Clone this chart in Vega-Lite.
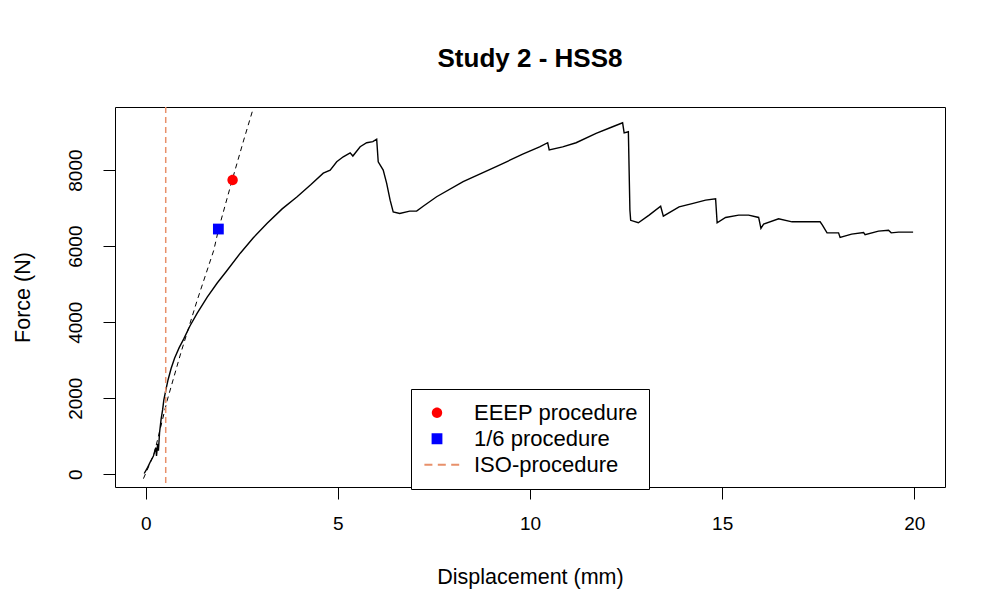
{
  "$schema": "https://vega.github.io/schema/vega-lite/v6.json",
  "width": 830,
  "height": 380,
  "autosize": {"type": "none"},
  "padding": {"left": 115, "top": 107, "right": 42, "bottom": 123},
  "background": "white",
  "title": {"text": "Study 2 - HSS8", "font": "Liberation Sans", "fontSize": 26, "fontWeight": "bold", "color": "black", "anchor": "middle", "frame": "group", "baseline": "alphabetic", "offset": 13},
  "config": {
    "view": {"stroke": "black", "strokeWidth": 1},
    "font": "Liberation Sans",
    "axis": {"domain": false, "grid": false, "tickSize": 12, "tickColor": "black", "tickWidth": 1, "labelColor": "black", "labelFontSize": 19, "labelFont": "Liberation Sans", "labelFlush": false, "labelOverlap": false, "titleColor": "black", "titleFontSize": 21.5, "titleFontWeight": "normal", "titleFont": "Liberation Sans"}
  },
  "datasets": {
    "curve": [
      {"i": 1, "x": -0.04, "y": 20}, {"i": 2, "x": 0.05, "y": 180}, {"i": 3, "x": 0.12, "y": 330}, {"i": 4, "x": 0.2, "y": 480},
      {"i": 5, "x": 0.26, "y": 700}, {"i": 6, "x": 0.28, "y": 480}, {"i": 7, "x": 0.31, "y": 800}, {"i": 8, "x": 0.33, "y": 620},
      {"i": 9, "x": 0.36, "y": 1100}, {"i": 10, "x": 0.4, "y": 1450}, {"i": 11, "x": 0.44, "y": 1700}, {"i": 12, "x": 0.47, "y": 1950},
      {"i": 13, "x": 0.52, "y": 2200}, {"i": 14, "x": 0.58, "y": 2480}, {"i": 15, "x": 0.66, "y": 2780}, {"i": 16, "x": 0.75, "y": 3050},
      {"i": 17, "x": 0.87, "y": 3330}, {"i": 18, "x": 0.99, "y": 3560}, {"i": 19, "x": 1.15, "y": 3900}, {"i": 20, "x": 1.34, "y": 4240},
      {"i": 21, "x": 1.6, "y": 4660}, {"i": 22, "x": 1.86, "y": 5030}, {"i": 23, "x": 2.1, "y": 5340}, {"i": 24, "x": 2.46, "y": 5815},
      {"i": 25, "x": 2.8, "y": 6220}, {"i": 26, "x": 3.16, "y": 6600}, {"i": 27, "x": 3.55, "y": 6980}, {"i": 28, "x": 3.94, "y": 7300},
      {"i": 29, "x": 4.3, "y": 7620}, {"i": 30, "x": 4.62, "y": 7920}, {"i": 31, "x": 4.8, "y": 8000}, {"i": 32, "x": 4.97, "y": 8220},
      {"i": 33, "x": 5.14, "y": 8350}, {"i": 34, "x": 5.32, "y": 8455}, {"i": 35, "x": 5.39, "y": 8370}, {"i": 36, "x": 5.58, "y": 8615},
      {"i": 37, "x": 5.75, "y": 8720}, {"i": 38, "x": 5.91, "y": 8750}, {"i": 39, "x": 6.01, "y": 8815}, {"i": 40, "x": 6.05, "y": 8220},
      {"i": 41, "x": 6.18, "y": 8000}, {"i": 42, "x": 6.27, "y": 7650}, {"i": 43, "x": 6.36, "y": 7210}, {"i": 44, "x": 6.44, "y": 6900},
      {"i": 45, "x": 6.61, "y": 6860}, {"i": 46, "x": 6.87, "y": 6920}, {"i": 47, "x": 7.05, "y": 6920}, {"i": 48, "x": 7.22, "y": 7050},
      {"i": 49, "x": 7.57, "y": 7300}, {"i": 50, "x": 8.26, "y": 7695}, {"i": 51, "x": 9.12, "y": 8090}, {"i": 52, "x": 9.81, "y": 8420},
      {"i": 53, "x": 10.25, "y": 8610}, {"i": 54, "x": 10.46, "y": 8720}, {"i": 55, "x": 10.5, "y": 8530}, {"i": 56, "x": 10.85, "y": 8610},
      {"i": 57, "x": 11.2, "y": 8720}, {"i": 58, "x": 11.72, "y": 8965}, {"i": 59, "x": 12.15, "y": 9140}, {"i": 60, "x": 12.41, "y": 9245},
      {"i": 61, "x": 12.45, "y": 8980}, {"i": 62, "x": 12.56, "y": 9010}, {"i": 63, "x": 12.6, "y": 6950}, {"i": 64, "x": 12.62, "y": 6680},
      {"i": 65, "x": 12.82, "y": 6615}, {"i": 66, "x": 13.1, "y": 6815}, {"i": 67, "x": 13.4, "y": 7050}, {"i": 68, "x": 13.47, "y": 6790},
      {"i": 69, "x": 13.88, "y": 7035}, {"i": 70, "x": 14.22, "y": 7120}, {"i": 71, "x": 14.57, "y": 7210}, {"i": 72, "x": 14.83, "y": 7245},
      {"i": 73, "x": 14.87, "y": 6615}, {"i": 74, "x": 15.09, "y": 6755}, {"i": 75, "x": 15.43, "y": 6815}, {"i": 76, "x": 15.69, "y": 6815},
      {"i": 77, "x": 15.95, "y": 6755}, {"i": 78, "x": 16.01, "y": 6465}, {"i": 79, "x": 16.08, "y": 6580}, {"i": 80, "x": 16.47, "y": 6720},
      {"i": 81, "x": 16.82, "y": 6640}, {"i": 82, "x": 17.55, "y": 6640}, {"i": 83, "x": 17.61, "y": 6555}, {"i": 84, "x": 17.73, "y": 6350},
      {"i": 85, "x": 18.03, "y": 6350}, {"i": 86, "x": 18.07, "y": 6230}, {"i": 87, "x": 18.37, "y": 6315}, {"i": 88, "x": 18.68, "y": 6360},
      {"i": 89, "x": 18.72, "y": 6300}, {"i": 90, "x": 19.07, "y": 6395}, {"i": 91, "x": 19.33, "y": 6420}, {"i": 92, "x": 19.4, "y": 6350},
      {"i": 93, "x": 19.59, "y": 6370}, {"i": 94, "x": 19.97, "y": 6370}
    ],
    "fit": [
      {"i": 1, "x": -0.06, "y": -115}, {"i": 2, "x": 0.22, "y": 545}, {"i": 3, "x": 0.56, "y": 1950}, {"i": 4, "x": 0.91, "y": 3180},
      {"i": 5, "x": 1.34, "y": 4580}, {"i": 6, "x": 1.77, "y": 5890}, {"i": 7, "x": 1.9, "y": 6465}, {"i": 8, "x": 2.25, "y": 7740},
      {"i": 9, "x": 2.55, "y": 8790}, {"i": 10, "x": 2.85, "y": 9800}
    ],
    "markers": [
      {"proc": "EEEP procedure", "x": 2.26, "y": 7740},
      {"proc": "1/6 procedure", "x": 1.89, "y": 6450}
    ],
    "iso": [{"proc": "ISO-procedure", "x": 0.52}]
  },
  "encoding": {
    "x": {"field": "x", "type": "quantitative", "scale": {"domain": [-0.8, 20.8], "nice": false, "zero": false},
      "axis": {"values": [0, 5, 10, 15, 20], "title": "Displacement (mm)", "labelPadding": 15, "titlePadding": 33}},
    "y": {"field": "y", "type": "quantitative", "scale": {"domain": [-335, 9660], "nice": false, "zero": false},
      "axis": {"values": [0, 2000, 4000, 6000, 8000], "format": "d", "title": "Force (N)", "labelAngle": -90, "labelAlign": "center", "labelBaseline": "alphabetic", "labelPadding": 22, "titlePadding": 32}}
  },
  "layer": [
    {"data": {"name": "fit"}, "mark": {"type": "line", "color": "black", "strokeWidth": 1, "strokeDash": [5, 4], "clip": true},
      "encoding": {"order": {"field": "i", "type": "quantitative"}}},
    {"data": {"name": "curve"}, "mark": {"type": "line", "color": "black", "strokeWidth": 1.4, "clip": true},
      "encoding": {"order": {"field": "i", "type": "quantitative"}}},
    {"data": {"name": "iso"}, "mark": {"type": "rule", "color": "#E8906A", "strokeWidth": 1.5, "strokeDash": [6, 4]},
      "encoding": {"x": {"field": "x", "type": "quantitative"}, "y": null}},
    {"data": {"name": "markers"}, "mark": {"type": "point", "filled": true, "opacity": 1, "size": 1600},
      "encoding": {
        "color": {"field": "proc", "type": "nominal",
          "scale": {"domain": ["EEEP procedure", "1/6 procedure", "ISO-procedure"], "range": ["#FF0000", "#0000FF", "#E8906A"]},
          "legend": {"orient": "none", "legendX": 296, "legendY": 282, "title": null, "strokeColor": "black", "fillColor": "white",
            "padding": 11, "labelFontSize": 22, "labelColor": "black", "labelFont": "Liberation Sans", "labelLimit": 400,
            "clipHeight": 25.5, "rowPadding": 0,
            "symbolOffset": -6, "labelOffset": 16, "symbolSize": 1600, "cornerRadius": 0}},
        "shape": {"field": "proc", "type": "nominal",
          "scale": {"domain": ["EEEP procedure", "1/6 procedure", "ISO-procedure"],
            "range": ["M0.26,0A0.26,0.26,0,1,1,-0.26,0A0.26,0.26,0,1,1,0.26,0Z", "M-0.27,-0.27H0.27V0.27H-0.27Z", "M-1.3,-0.045H-0.9V0.045H-1.3Z M-0.63,-0.045H-0.23V0.045H-0.63Z M0.04,-0.045H0.44V0.045H0.04Z M0.71,-0.045H1.11V0.045H0.71Z"]}}
      }}
  ]
}
